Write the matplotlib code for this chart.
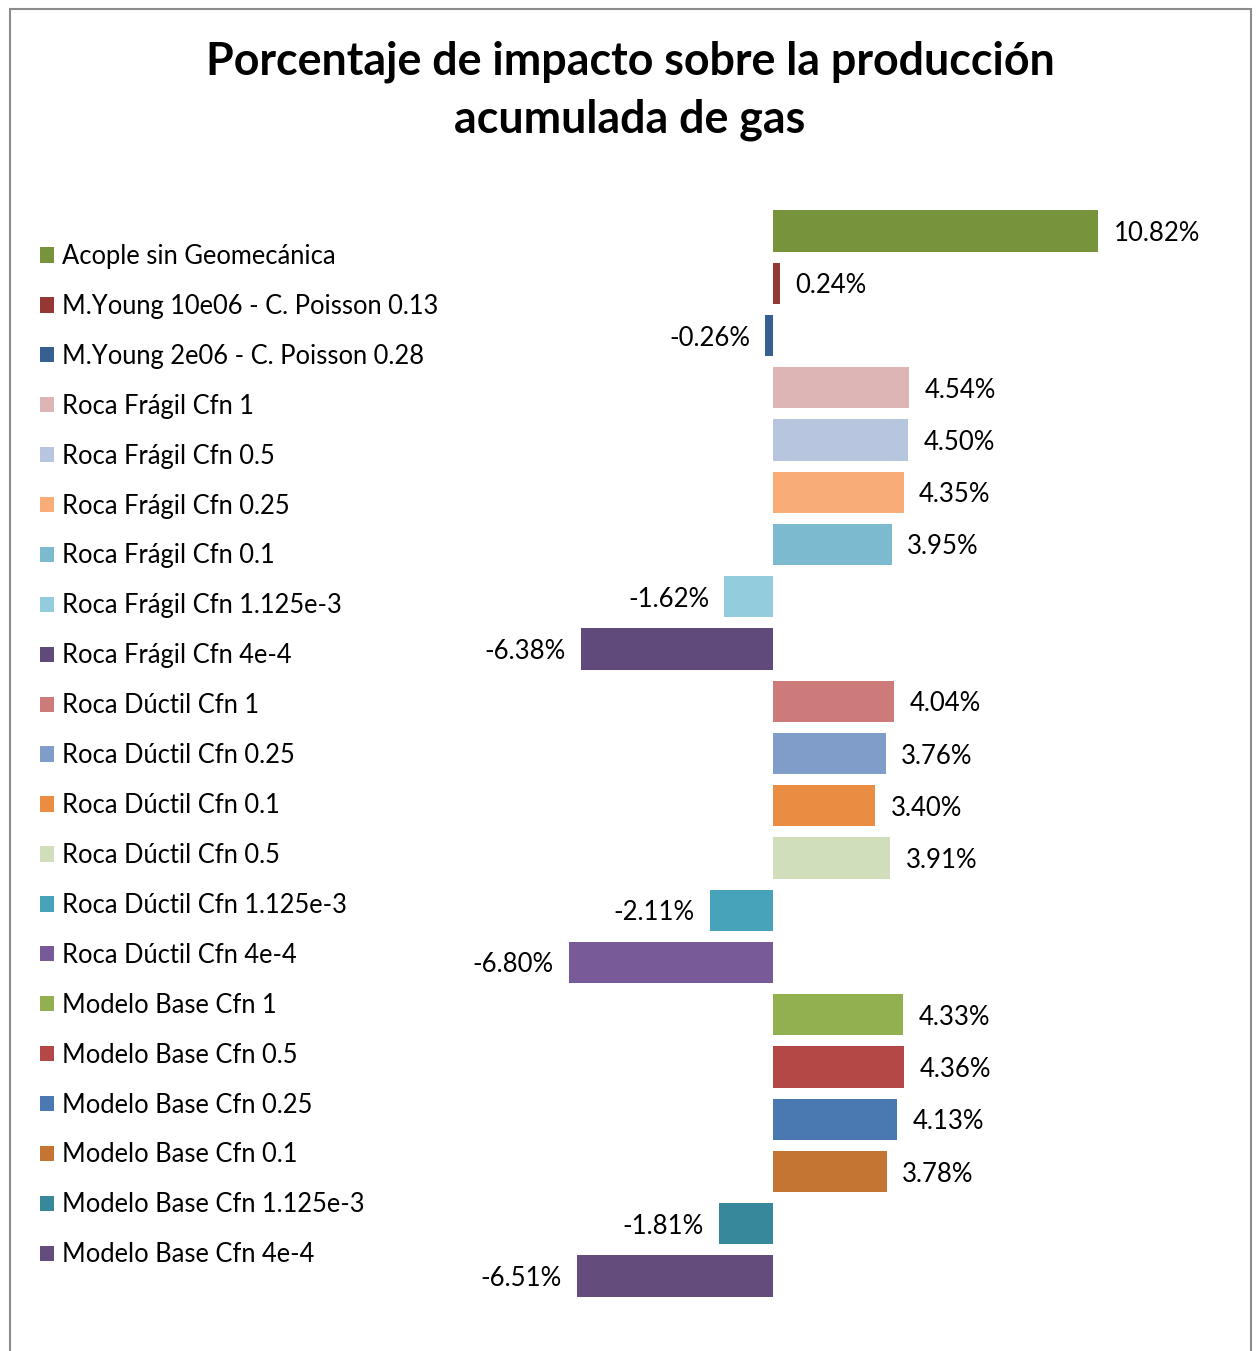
import matplotlib.pyplot as plt
import matplotlib.patches as patches

# --- data ---
labels = [
    "Acople sin Geomecánica",
    "M.Young 10e06 - C. Poisson 0.13",
    "M.Young 2e06 - C. Poisson 0.28",
    "Roca Frágil Cfn 1",
    "Roca Frágil Cfn 0.5",
    "Roca Frágil Cfn 0.25",
    "Roca Frágil Cfn 0.1",
    "Roca Frágil Cfn 1.125e-3",
    "Roca Frágil Cfn 4e-4",
    "Roca Dúctil Cfn 1",
    "Roca Dúctil Cfn 0.25",
    "Roca Dúctil Cfn 0.1",
    "Roca Dúctil Cfn 0.5",
    "Roca Dúctil Cfn 1.125e-3",
    "Roca Dúctil Cfn 4e-4",
    "Modelo Base Cfn 1",
    "Modelo Base Cfn 0.5",
    "Modelo Base Cfn 0.25",
    "Modelo Base Cfn 0.1",
    "Modelo Base Cfn 1.125e-3",
    "Modelo Base Cfn 4e-4",
]
values = [10.82, 0.24, -0.26, 4.54, 4.50, 4.35, 3.95, -1.62, -6.38,
          4.04, 3.76, 3.40, 3.91, -2.11, -6.80,
          4.33, 4.36, 4.13, 3.78, -1.81, -6.51]
colors = ["#77933C", "#953735", "#376092", "#DDB5B5", "#B7C5DF", "#F8AC78",
          "#7CBAD0", "#93CDDD", "#604A7B", "#CD7B7A", "#7F9DC8", "#EA8D43",
          "#D0DEBB", "#46A3BA", "#775A97", "#92B050", "#B34846", "#4A78B0",
          "#C47534", "#36889A", "#644C7C"]

plt.rcParams['font.family'] = ['Lato', 'DejaVu Sans']

W, H = 1260, 1351
fig = plt.figure(figsize=(W / 100, H / 100), dpi=100)

# plot area: zero at x=773px, ~30.05 px per 1%
px_per = 30.05
x0_px, x1_px = 460, 1230
top_px = 231 - 52.25 / 2
bot_px = 231 + 52.25 * 20.5
ax = fig.add_axes([x0_px / W, 1 - bot_px / H, (x1_px - x0_px) / W, (bot_px - top_px) / H])
ax.set_xlim((x0_px - 773) / px_per, (x1_px - 773) / px_per)
ax.set_ylim(len(values) - 0.5, -0.5)

handles = []
for i, (lab, v, c) in enumerate(zip(labels, values, colors)):
    bc = ax.barh(i, v, height=0.785, color=c, label=lab)
    txt = ax.bar_label(bc, labels=[f"{v:.2f}%"], padding=11, fontsize=18.5)
    txt[0].set_va('center_baseline')
    handles.append(bc)

ax.axis('off')

fs = 18.4
ax.legend(handles=handles, loc='upper left', bbox_to_anchor=(40 / W, 1 - 244 / H),
          bbox_transform=fig.transFigure, frameon=False, fontsize=fs,
          handlelength=14 / (fs * 100 / 72), handleheight=14 / (fs * 100 / 72),
          handletextpad=0.3, labelspacing=0.975, borderaxespad=0, borderpad=0)

fig.text(630 / W, 1 - 91 / H, "Porcentaje de impacto sobre la producción\nacumulada de gas",
         ha='center', va='center', fontsize=32.2, fontweight='bold', linespacing=1.47)

# outer frame
fig.patches.append(patches.Rectangle((9.5 / W, -0.05), (1251 - 9.5) / W, 1.05 - 8.5 / H,
                                     transform=fig.transFigure, fill=False,
                                     edgecolor='#8c8c8c', linewidth=1.5))

fig.savefig("out.png", dpi=100)
